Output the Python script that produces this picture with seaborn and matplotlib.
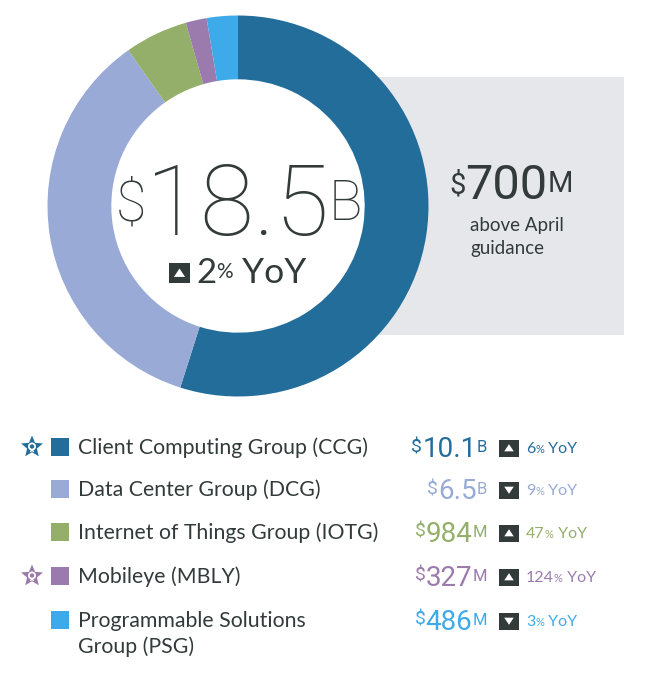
import numpy as np
import pandas as pd
import matplotlib
matplotlib.use("Agg")
import matplotlib.pyplot as plt
import seaborn as sns
from matplotlib.patches import Rectangle, Polygon, Circle

# ---------------- data ----------------
segments = ["Client Computing Group (CCG)", "Data Center Group (DCG)",
            "Internet of Things Group (IOTG)", "Mobileye (MBLY)",
            "Programmable Solutions\nGroup (PSG)"]
revenue_musd = [10100, 6500, 984, 327, 486]
value_num = ["10.1", "6.5", "984", "327", "486"]
value_unit = ["B", "B", "M", "M", "M"]
yoy_pct = [6, -9, 47, 124, -3]
starred = [True, False, False, True, False]
seg_colors = ["#236D9B", "#98AAD5", "#93AF69", "#9B7BAD", "#3DABE9"]

total_num = "18.5"
total_unit = "B"
total_yoy = 2
beat_num = "700"
beat_unit = "M"
beat_text = ["above April", "guidance"]

df = pd.DataFrame({"segment": segments, "revenue": revenue_musd,
                   "num": value_num, "unit": value_unit, "yoy": yoy_pct,
                   "star": starred, "color": seg_colors})

# ---------------- style ----------------
sns.set_theme(style="white")
plt.rcParams["font.family"] = ["Lato", "DejaVu Sans"]
NUMF = ["Roboto", "DejaVu Sans"]
palette = sns.color_palette(seg_colors)
DARK = "#323B3A"
W, H = 653, 680

fig = plt.figure(figsize=(W / 100, H / 100), dpi=100)
fig.patch.set_facecolor("white")

bg = fig.add_axes([0, 0, 1, 1], zorder=0)
bg.set_xlim(0, W); bg.set_ylim(H, 0); bg.axis("off")

# gray guidance panel (left edge hidden under the ring)
bg.add_patch(Rectangle((372, 77), 624 - 372, 335 - 77, color="#E6E7EB", lw=0))

# donut
cx, cy, r = 238, 206, 190.5
pax = fig.add_axes([(cx - r) / W, (H - cy - r) / H, 2 * r / W, 2 * r / H], zorder=1)
pax.patch.set_visible(False)
pax.pie(df["revenue"], colors=palette, startangle=90, counterclock=False,
        radius=1, wedgeprops=dict(width=0.335, linewidth=0))
pax.set_xlim(-1, 1); pax.set_ylim(-1, 1); pax.set_aspect("equal")
pax.axis("off")

ov = fig.add_axes([0, 0, 1, 1], zorder=2)
ov.set_xlim(0, W); ov.set_ylim(H, 0); ov.axis("off")
ov.patch.set_visible(False)

fig.canvas.draw()
R = fig.canvas.get_renderer()


def run(x, parts, ha="left", family=None):
    arts, widths = [], []
    for s, size, col, by, wt in parts:
        kw = {} if family is None else {"family": family}
        t = ov.text(0, by, s, fontsize=size, color=col, fontweight=wt,
                    ha="left", va="baseline", **kw)
        widths.append(t.get_window_extent(R).width)
        arts.append(t)
    total = sum(widths)
    cur = x - total if ha == "right" else (x - total / 2 if ha == "center" else x)
    for t, w in zip(arts, widths):
        t.set_x(cur)
        cur += w


def tri_box(xc, yc, w, h, up):
    ov.add_patch(Rectangle((xc - w / 2, yc - h / 2), w, h, color=DARK, lw=0))
    s = h * 0.28
    if up:
        pts = [(xc - s, yc + s * 0.7), (xc + s, yc + s * 0.7), (xc, yc - s * 0.8)]
    else:
        pts = [(xc - s, yc - s * 0.7), (xc + s, yc - s * 0.7), (xc, yc + s * 0.8)]
    ov.add_patch(Polygon(pts, closed=True, color="white", lw=0))


def star(xc, yc, rad, col):
    ang = np.pi / 2 + np.arange(10) * np.pi / 5
    rr = np.where(np.arange(10) % 2 == 0, rad, rad * 0.45)
    pts = np.c_[xc + rr * np.cos(ang), yc - rr * np.sin(ang)]
    ov.add_patch(Polygon(pts, closed=True, color=col, lw=0))
    ov.add_patch(Circle((xc, yc - 0.5), rad * 0.27, fill=False, ec="white", lw=1.3))
    ov.plot([xc - 1.5, xc, xc + 1.5], [yc + 4.5, yc + 3, yc + 4.5], color="white", lw=1.0)


# centre total
run(239, [("$", 40, DARK, 221, "light"), (total_num, 71, DARK, 235, "light"),
          (total_unit, 40, DARK, 220, "light")], ha="center", family=NUMF)
tri_box(179.5, 273, 21, 20, total_yoy >= 0)
run(196, [(f"{abs(total_yoy)}", 25, DARK, 283, "normal"), ("%", 15, DARK, 278, "normal"),
          (" YoY", 25.5, DARK, 283, "normal")])

# guidance panel text
run(449, [("$", 21, DARK, 193, "normal"), (beat_num, 35, DARK, 199, "normal"),
          (beat_unit, 21, DARK, 192, "normal")], family=NUMF)
for k, ln in enumerate(beat_text):
    ov.text(470, 231 + 23 * k, ln, fontsize=13.5, color=DARK, ha="left", va="baseline")

# legend rows
row_y = [447, 489, 532, 576, 620]
for i, row in df.iterrows():
    y = row_y[i]
    col = palette[i]
    if row["star"]:
        star(32, y, 11.5, col)
    ov.add_patch(Rectangle((51, y - 9), 18, 18, color=col, lw=0))
    lines = row["segment"].split("\n")
    for k, ln in enumerate(lines):
        ov.text(78, y + 7 + 26 * k, ln, fontsize=15.3, color=DARK, ha="left", va="baseline")
    run(487, [("$", 14, col, y + 5, "normal"), (row["num"], 20, col, y + 10, "normal"),
              (row["unit"], 12, col, y + 5, "normal")], ha="right", family=NUMF)
    tri_box(509, y + 1, 20, 17, row["yoy"] >= 0)
    run(526, [(f"{abs(row['yoy'])}", 11.5, col, y + 6, "normal"), ("%", 8, col, y + 6, "normal"),
              (" YoY", 11.5, col, y + 6, "normal")])

fig.savefig("out.png", dpi=100)
